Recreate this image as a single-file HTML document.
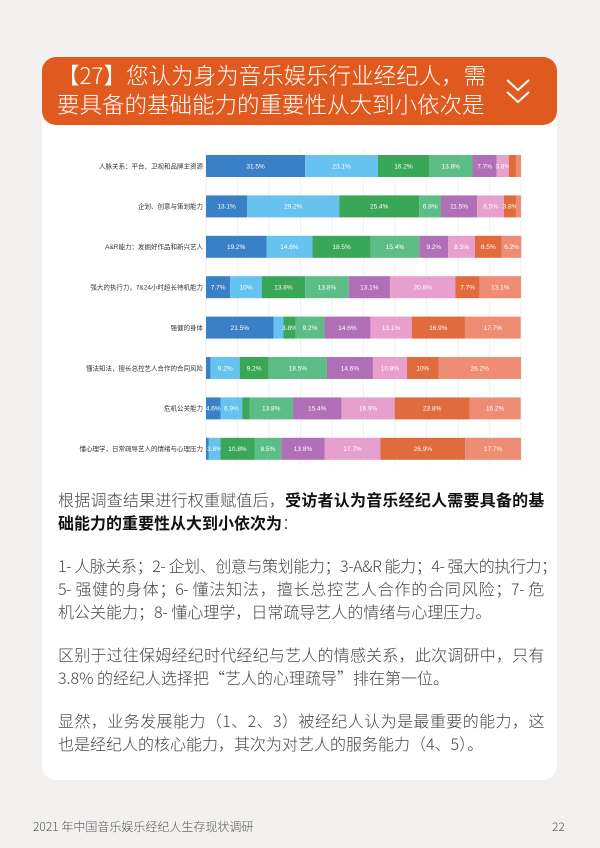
<!DOCTYPE html>
<html><head><meta charset="utf-8">
<style>
body{margin:0;width:600px;height:848px;background:#f2f1f0;font-family:"Liberation Sans","Noto Sans CJK SC",sans-serif;position:relative;overflow:hidden}
.card{position:absolute;left:42px;top:100px;width:515px;height:680px;background:#fff;border-radius:14px}
.hdr{position:absolute;left:42px;top:57px;width:515px;height:68px;background:#e05a1f;border-radius:14px;color:#fff;font-size:22.5px;line-height:29px;box-sizing:border-box;padding:4px 0 0 15px;font-family:"Noto Sans CJK SC",sans-serif;font-weight:300}
.txt{position:absolute;left:58px;width:486px;font-size:16px;line-height:23px;color:#444;font-family:"Noto Sans CJK SC",sans-serif;font-weight:300;white-space:nowrap}
.txt b{color:#111;font-weight:700}
.j{display:block;text-align:justify;text-align-last:justify;letter-spacing:-0.4px}
.foot{position:absolute;top:818px;font-size:12px;color:#555;font-family:"Noto Sans CJK SC",sans-serif;font-weight:300}
</style></head><body>
<div class="card"></div>
<div class="hdr">【27】您认为身为音乐娱乐行业经纪人，需<br>要具备的基础能力的重要性从大到小依次是
<svg style="position:absolute;left:463px;top:20px" width="26" height="30" viewBox="0 0 26 30"><polyline points="2,3 13,13 24,3" fill="none" stroke="#fff" stroke-width="2"/><polyline points="2,15 13,25 24,15" fill="none" stroke="#fff" stroke-width="2"/></svg>
</div>
<svg id="chart" style="position:absolute;left:0;top:0" width="600" height="480"></svg>
<div class="txt" style="top:488px"><span class="j">根据调查结果进行权重赋值后，<b>受访者认为音乐经纪人需要具备的基</b></span><b>础能力的重要性从大到小依次为</b>：</div>
<div class="txt" style="top:554px"><span class="j">1- 人脉关系；2- 企划、创意与策划能力；3-A&amp;R 能力；4- 强大的执行力；</span><span class="j">5- 强健的身体；6- 懂法知法，擅长总控艺人合作的合同风险；7- 危</span>机公关能力；8- 懂心理学，日常疏导艺人的情绪与心理压力。</div>
<div class="txt" style="top:643px"><span class="j">区别于过往保姆经纪时代经纪与艺人的情感关系，此次调研中，只有</span>3.8% 的经纪人选择把“艺人的心理疏导”排在第一位。</div>
<div class="txt" style="top:709px"><span class="j">显然，业务发展能力（1、2、3）被经纪人认为是最重要的能力，这</span>也是经纪人的核心能力，其次为对艺人的服务能力（4、5）。</div>
<div class="foot" style="left:33px">2021 年中国音乐娱乐经纪人生存现状调研</div>
<div class="foot" style="left:552px">22</div>
<script>
const categories=["人脉关系：平台、卫视和品牌主资源","企划、创意与策划能力","A&R能力：发掘好作品和新兴艺人","强大的执行力，7&24小时超长待机能力","强健的身体","懂法知法，擅长总控艺人合作的合同风险","危机公关能力","懂心理学，日常疏导艺人的情绪与心理压力"];
const rank1=[31.5,13.1,19.2,7.7,21.5,1.5,4.6,0.8];
const rank2=[23.1,29.2,14.6,10,3.1,9.2,6.9,3.8];
const rank3=[16.2,25.4,18.5,13.8,3.8,9.2,2.3,10.8];
const rank4=[13.8,6.9,15.4,13.8,9.2,18.5,13.8,8.5];
const rank5=[7.7,11.5,9.2,13.1,14.6,14.6,15.4,13.8];
const rank6=[3.8,8.5,8.5,20.8,13.1,10.8,16.9,17.7];
const rank7=[2.3,3.8,8.5,7.7,16.9,10,23.8,26.9];
const rank8=[1.6,1.6,6.2,13.1,17.7,26.2,16.2,17.7];
const series=[rank1,rank2,rank3,rank4,rank5,rank6,rank7,rank8];
const colors=["#3a80c6","#66c2ee","#3aa657","#5dbd86","#b06fb6","#e7a0cd","#e06b3c","#ef8c74"];
const svg=document.getElementById('chart');const NS="http://www.w3.org/2000/svg";
const x0=206,x1=521,y0=155,step=40.4,bh=22;
const xs=v=>x0+(x1-x0)*v/100;
for(let i=0;i<=10;i++){const l=document.createElementNS(NS,'line');


l.setAttribute('x1',xs(i*10));l.setAttribute('x2',xs(i*10));l.setAttribute('y1',150);l.setAttribute('y2',465);l.setAttribute('stroke','#e8e8e8');l.setAttribute('stroke-width','0.6');svg.appendChild(l);}
categories.forEach((c,i)=>{const y=y0+i*step;
const t=document.createElementNS(NS,'text');


t.setAttribute('x',203);t.setAttribute('y',y+bh/2+2.3);t.setAttribute('text-anchor','end');t.setAttribute('font-size','6.5');t.setAttribute('fill','#333');t.setAttribute('font-family','"Liberation Sans","Noto Sans CJK SC",sans-serif');t.textContent=c;svg.appendChild(t);
let acc=0;series.forEach((s,k)=>{const v=s[i];
const r=document.createElementNS(NS,'rect');


r.setAttribute('x',xs(acc));r.setAttribute('y',y);r.setAttribute('width',xs(acc+v)-xs(acc));r.setAttribute('height',bh);r.setAttribute('fill',colors[k]);svg.appendChild(r);
if(v>=3.5){const tt=document.createElementNS(NS,'text');


tt.setAttribute('x',(xs(acc)+xs(acc+v))/2);tt.setAttribute('y',y+bh/2+2.3);tt.setAttribute('text-anchor','middle');tt.setAttribute('font-size','6.5');tt.setAttribute('fill','#fff');tt.setAttribute('font-family','"Liberation Sans",sans-serif');tt.textContent=v+'%';svg.appendChild(tt);}
acc+=v;});});
</script>
</body></html>
